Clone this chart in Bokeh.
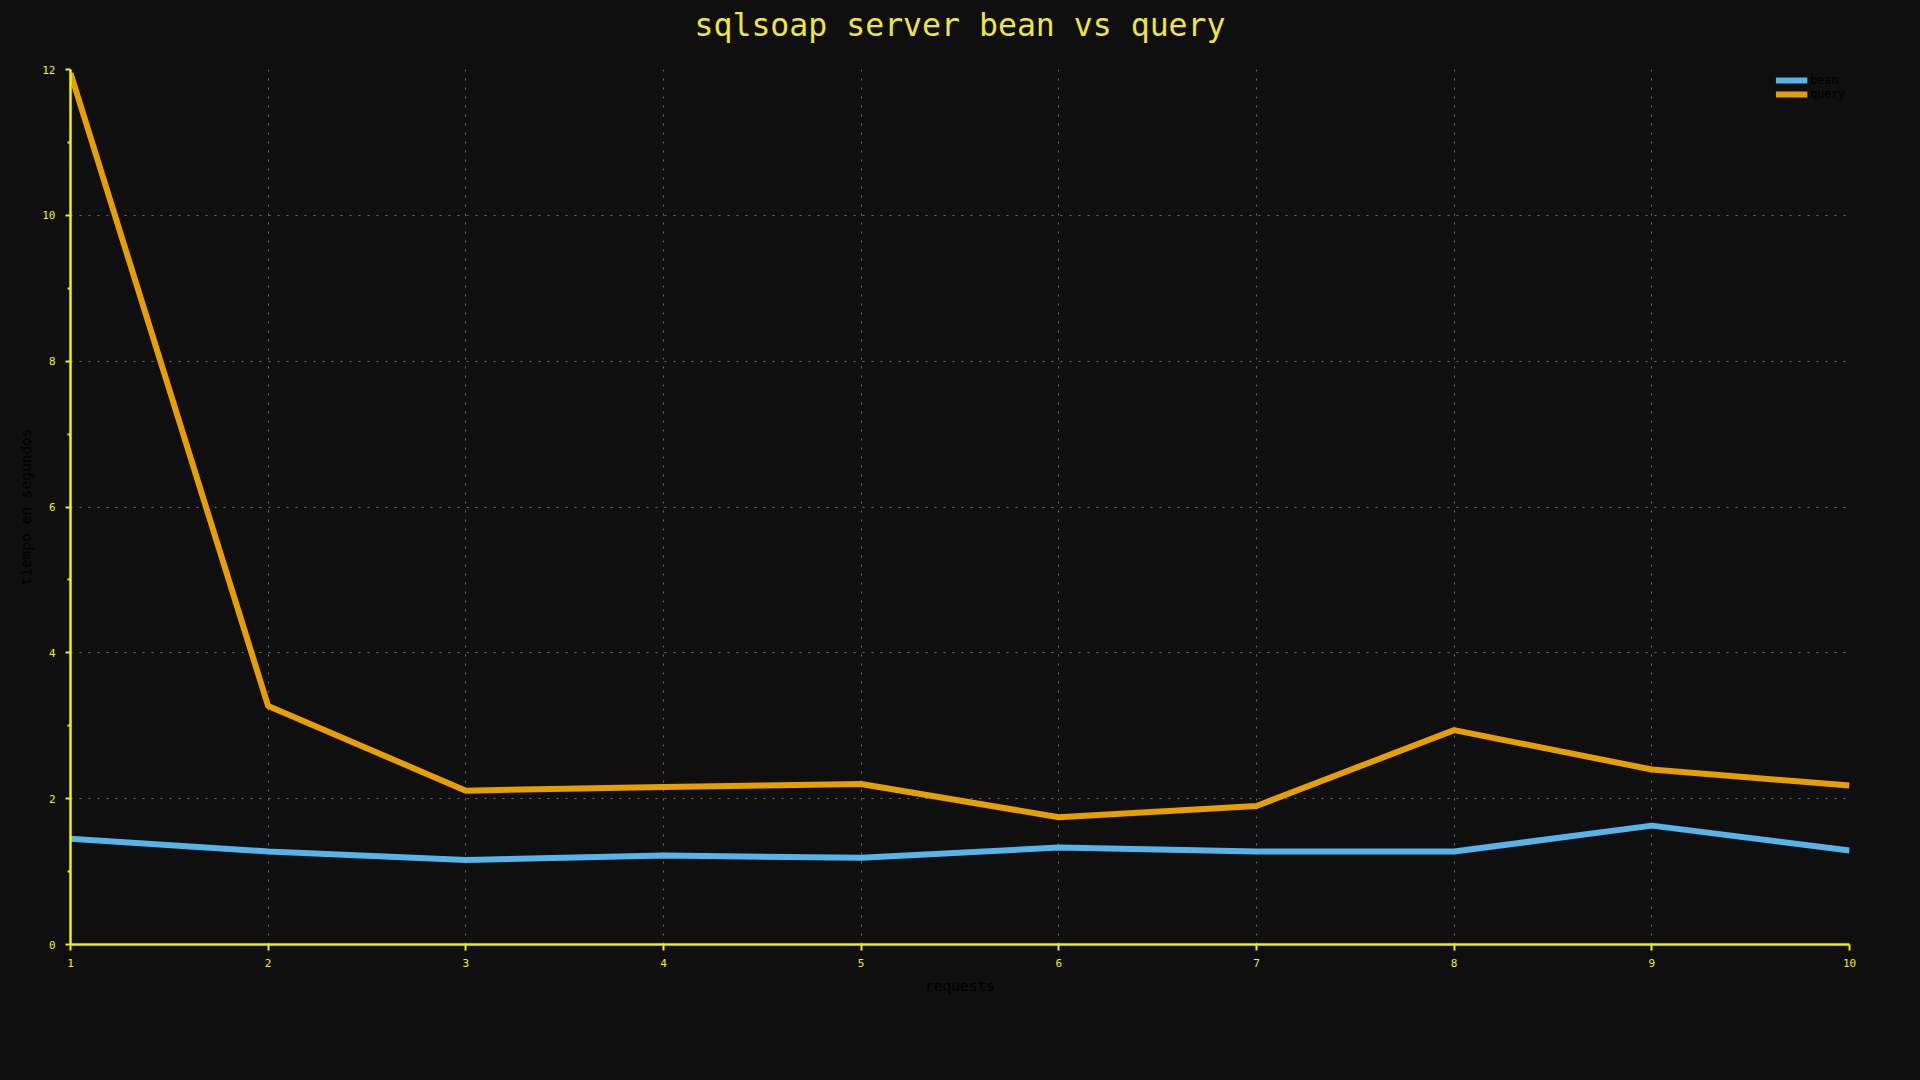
from bokeh.plotting import figure
from bokeh.models import FixedTicker, Range1d, Legend, LegendItem, LinearAxis
from bokeh.embed import file_html
from bokeh.resources import INLINE

requests = [1, 2, 3, 4, 5, 6, 7, 8, 9, 10]
bean = [1.45, 1.275, 1.16, 1.22, 1.19, 1.33, 1.275, 1.275, 1.63, 1.29]
query = [11.95, 3.27, 2.11, 2.16, 2.20, 1.745, 1.90, 2.94, 2.40, 2.18]
y_ticks = [0, 2, 4, 6, 8, 10, 12]
y_minor = [1, 3, 5, 7, 9, 11]
title_text = "sqlsoap server bean vs query"

BG = "#0f0f0f"
AX = "#f2f200"
FONT = "DejaVu Sans Mono"

p = figure(width=1904, height=1064, output_backend="svg", toolbar_location=None,
           x_range=Range1d(1, 10), y_range=Range1d(0, 12),
           min_border_left=70, min_border_right=55, min_border_top=69, min_border_bottom=120)
p.background_fill_color = BG
p.border_fill_color = BG
p.outline_line_color = None

xax = p.below[0]
yax = p.left[0]

l1 = p.line(requests, bean, line_color="#56b4e9", line_width=6)
l2 = p.line(requests, query, line_color="#e69f00", line_width=6)

for ax in (xax, yax):
    ax.axis_line_color = AX
    ax.axis_line_width = 2.5
    ax.major_tick_line_color = AX
    ax.major_tick_line_width = 2
    ax.minor_tick_line_color = AX
    ax.minor_tick_line_width = 2
    ax.major_label_text_color = AX
    ax.major_label_text_font = FONT
    ax.major_label_text_font_size = "11px"
    ax.axis_label_text_font = FONT
    ax.axis_label_text_font_size = "14.5px"
    ax.axis_label_text_font_style = "normal"
    ax.axis_label_text_color = "#000000"
    ax.major_tick_in = 0

xax.ticker = FixedTicker(ticks=requests)
xax.axis_label = "requests"
xax.major_tick_out = 6
xax.minor_tick_out = 0
xax.major_label_standoff = 8
xax.axis_label_standoff = 8

yax.ticker = FixedTicker(ticks=y_ticks, minor_ticks=y_minor)
yax.axis_label = "tiempo en segundos"
yax.major_tick_out = 5
yax.minor_tick_out = 3
yax.minor_tick_in = 0
yax.major_label_standoff = 10
yax.axis_label_standoff = 5

# title drawn as the label of an empty axis above the frame
top_axis = LinearAxis(ticker=FixedTicker(ticks=[]), axis_label=title_text)
top_axis.axis_line_color = None
top_axis.major_tick_line_color = None
top_axis.minor_tick_line_color = None
top_axis.major_tick_out = 0
top_axis.minor_tick_out = 0
top_axis.major_label_text_font_size = "0px"
top_axis.axis_label_text_font = FONT
top_axis.axis_label_text_font_size = "31.5px"
top_axis.axis_label_text_font_style = "normal"
top_axis.axis_label_text_color = "#f0e442"
top_axis.axis_label_standoff = 27
p.add_layout(top_axis, "above")

for g in (p.xgrid[0], p.ygrid[0]):
    g.grid_line_color = "#6a6a6a"
    g.grid_line_width = 1
    g.grid_line_dash = "2 7"
p.xgrid.ticker = FixedTicker(ticks=requests)
p.ygrid.ticker = FixedTicker(ticks=y_ticks)

legend = Legend(items=[LegendItem(label="bean", renderers=[l1]),
                       LegendItem(label="query", renderers=[l2])],
                location="top_right")
legend.background_fill_alpha = 0
legend.border_line_color = None
legend.label_text_color = "#000000"
legend.label_text_font = FONT
legend.label_text_font_size = "11.5px"
legend.glyph_width = 32
legend.glyph_height = 12
legend.label_height = 12
legend.label_standoff = 3
legend.spacing = 0
legend.padding = 2
legend.margin = 4
p.add_layout(legend)

html = file_html(p, INLINE)
html = html.replace("<body>", '<body style="background:%s">' % BG)
open("out.html", "w").write(html)
